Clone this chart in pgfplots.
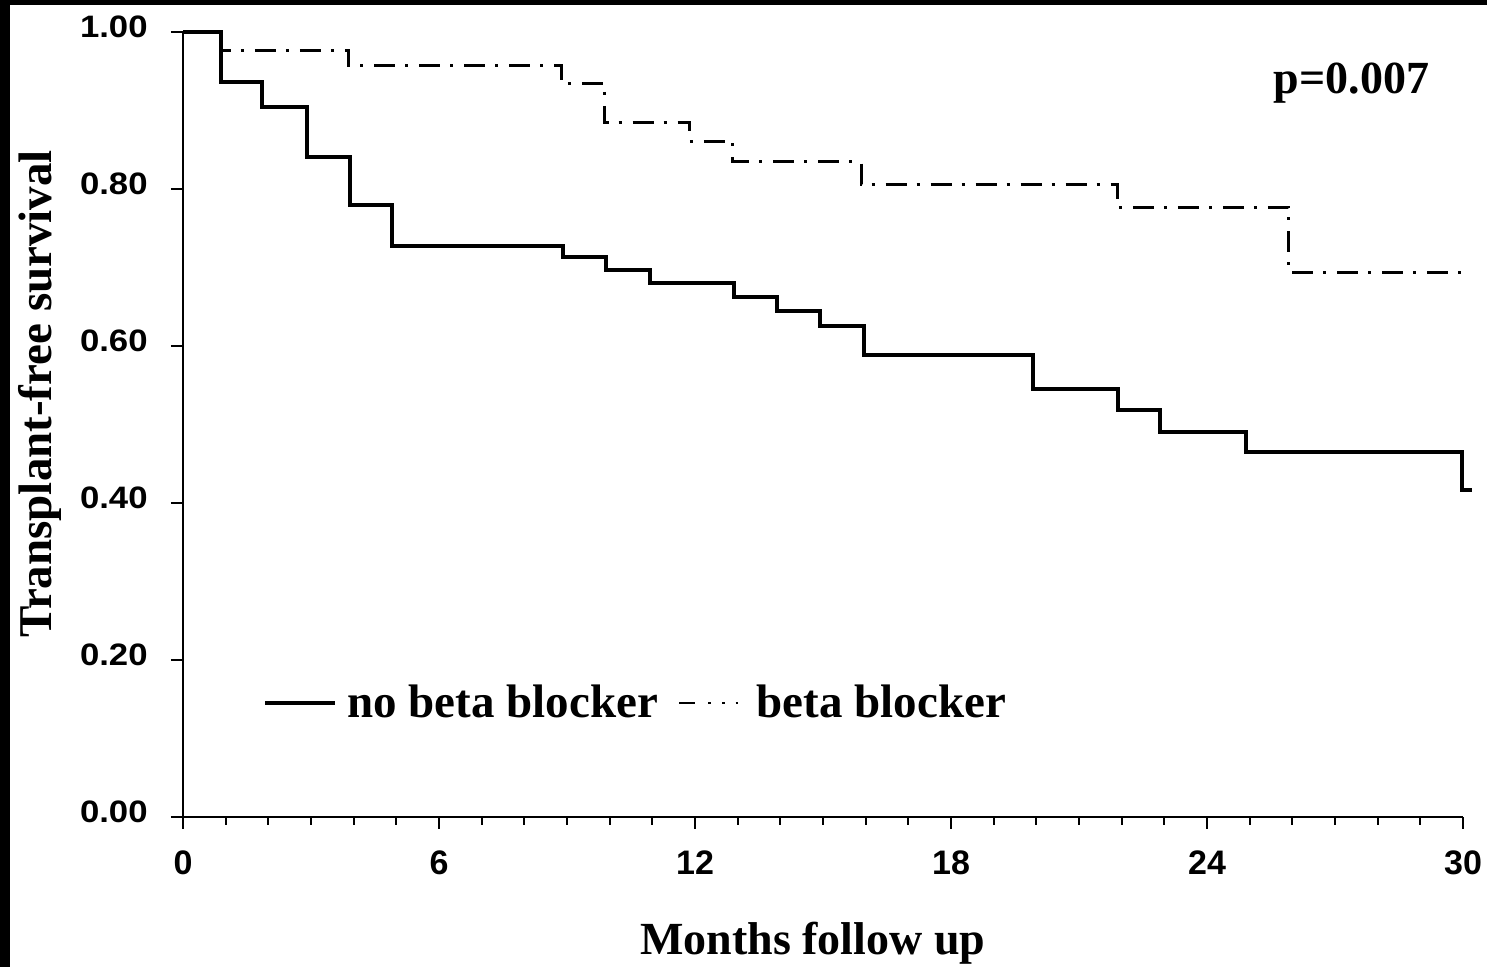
\documentclass[border=0pt]{standalone}
\usepackage{fontspec}
\setmainfont{Liberation Serif}
\newfontfamily\ytickfont[FakeStretch=1.12]{Liberation Sans}
\newfontfamily\xtickfont{Liberation Sans}
\usepackage{pgfplots}
\pgfplotsset{compat=1.18}

\begin{document}
\begin{tikzpicture}
\path[use as bounding box] (-91.5pt,-75pt) rectangle (652pt,408.5pt);
% scanned page edge
\fill[black] (-91.5pt,-75pt) rectangle (-86.5pt,408.5pt);
\fill[black] (-91.5pt,406pt) rectangle (652pt,408.5pt);
\begin{axis}[
  at={(0pt,0pt)}, anchor=south west,
  scale only axis, width=640pt, height=392.5pt,
  xmin=0, xmax=30, ymin=0, ymax=1,
  clip=false,
  axis lines=left,
  axis line style={-, line width=1pt},
  tick align=outside,
  every tick/.style={line width=1pt, black},
  major tick length=6pt, minor tick length=4pt,
  xtick={0,6,12,18,24,30}, minor x tick num=5,
  ytick={0,0.2,0.4,0.6,0.8,1},
  /pgf/number format/assume math mode=true,
  yticklabel style={/pgf/number format/fixed, /pgf/number format/fixed zerofill,
    /pgf/number format/precision=2,
    font=\bfseries\ytickfont\fontsize{15.5}{18}\selectfont,
    anchor=east, inner sep=0pt, xshift=-11.5pt, yshift=2.5pt},
  xticklabel style={font=\bfseries\xtickfont\fontsize{17}{20}\selectfont,
    anchor=north, inner sep=0pt, yshift=-10.5pt},
  legend columns=2,
  legend cell align=left,
  legend style={draw=none, fill=none, at={(rel axis cs:0.0625,0.1452)}, anchor=west,
    inner sep=0pt, font=\bfseries\fontsize{23.5}{28}\selectfont,
    nodes={inner sep=0pt},
    /tikz/every odd column/.append style={column sep=5pt},
    /tikz/every even column/.append style={column sep=10pt}},
]
% no beta blocker
\addplot[const plot, black, line width=2pt, line join=miter,
  legend image code/.code={\draw[black, line width=2pt] (0pt,0pt) -- (35pt,0pt);}]
  coordinates {
  (0,1.000) (0.89,0.936) (1.86,0.905) (2.90,0.841) (3.91,0.779) (4.91,0.728)
  (8.91,0.713) (9.91,0.697) (10.94,0.680) (12.92,0.663) (13.91,0.644)
  (14.93,0.625) (15.95,0.589) (19.92,0.545) (21.92,0.518) (22.90,0.491)
  (24.92,0.465) (29.97,0.416) (30.2,0.416)};
\addlegendentry{no beta blocker}
% beta blocker
\addplot[const plot, black, line width=1.5pt,
  dash pattern=on 10.5pt off 5pt on 1.5pt off 5.5pt,
  legend image code/.code={\draw[black, line width=1.3pt,
    dash pattern=on 8pt off 6.5pt on 1.3pt off 5.5pt on 1.3pt off 5.5pt on 1.3pt off 5pt]
    (0pt,0pt) -- (33pt,0pt);}]
  coordinates {
  (0,1.000) (0.89,0.977) (3.87,0.957) (8.87,0.935) (9.87,0.885) (11.88,0.861)
  (12.88,0.835) (15.90,0.806) (21.90,0.777) (25.92,0.693) (30.15,0.693)};
\addlegendentry{beta blocker}
\node[anchor=base east, font=\bfseries\fontsize{23}{28}\selectfont]
  at (rel axis cs:0.9727,0.921) [xshift=4pt] {p=0.007};
\path (rel axis cs:0.492,0) ++(0pt,-69pt)
  node[anchor=base, font=\bfseries\fontsize{23}{28}\selectfont] {Months follow up};
\path (rel axis cs:0,0.539) ++(-65.5pt,0pt)
  node[rotate=90, anchor=base, font=\bfseries\fontsize{23.5}{28}\selectfont] {Transplant-free survival};
\end{axis}
\end{tikzpicture}
\end{document}
